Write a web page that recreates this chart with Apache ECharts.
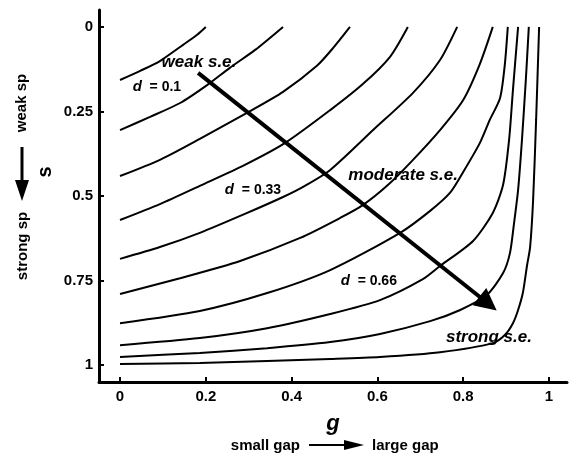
<!DOCTYPE html>
<html>
<head>
<meta charset="utf-8">
<script src="https://cdn.jsdelivr.net/npm/echarts@6/dist/echarts.min.js"></script>
<style>
  html, body { margin: 0; padding: 0; background: #fff; }
  #chart { width: 569px; height: 453px; }
</style>
</head>
<body>
<div id="chart"></div>
<script>
// Contours of constant d in the (g, s) plane; each curve is a list of [g, s] pairs.
const curve1 = [[0, 0.157], [0.047, 0.130], [0.093, 0.101], [0.147, 0.053], [0.179, 0.024], [0.200, 0]];
const curve2 = [[0, 0.305], [0.070, 0.266], [0.140, 0.225], [0.203, 0.172], [0.256, 0.121], [0.315, 0.068], [0.380, 0]];
const curve3 = [[0, 0.441], [0.093, 0.393], [0.186, 0.331], [0.296, 0.254], [0.380, 0.192], [0.459, 0.115], [0.497, 0.062], [0.536, 0]];
const curve4 = [[0, 0.571], [0.093, 0.524], [0.186, 0.470], [0.291, 0.408], [0.385, 0.343], [0.490, 0.246], [0.566, 0.169], [0.629, 0.089], [0.671, 0]];
const curve5 = [[0, 0.686], [0.093, 0.651], [0.186, 0.609], [0.291, 0.553], [0.380, 0.503], [0.431, 0.470], [0.490, 0.423], [0.590, 0.305], [0.683, 0.195], [0.746, 0.098], [0.786, 0]];
const curve6 = [[0, 0.790], [0.140, 0.743], [0.280, 0.692], [0.420, 0.624], [0.513, 0.565], [0.566, 0.527], [0.625, 0.467], [0.683, 0.393], [0.746, 0.305], [0.800, 0.216], [0.839, 0.109], [0.869, 0]];
const curve7 = [[0, 0.876], [0.186, 0.840], [0.343, 0.787], [0.490, 0.719], [0.653, 0.609], [0.723, 0.544], [0.769, 0.491], [0.800, 0.429], [0.839, 0.343], [0.862, 0.275], [0.886, 0.210], [0.897, 0.112], [0.904, 0]];
const curve8 = [[0, 0.941], [0.186, 0.920], [0.343, 0.891], [0.490, 0.849], [0.606, 0.808], [0.706, 0.746], [0.746, 0.707], [0.823, 0.633], [0.869, 0.550], [0.893, 0.467], [0.907, 0.334], [0.916, 0.186], [0.928, 0]];
const curve9 = [[0, 0.976], [0.186, 0.964], [0.343, 0.950], [0.490, 0.932], [0.606, 0.908], [0.723, 0.870], [0.793, 0.837], [0.855, 0.793], [0.893, 0.728], [0.909, 0.669], [0.918, 0.586], [0.928, 0.482], [0.937, 0.334], [0.946, 0.157], [0.953, 0]];
const curve10 = [[0, 0.997], [0.186, 0.994], [0.343, 0.988], [0.490, 0.982], [0.606, 0.976], [0.746, 0.962], [0.869, 0.935], [0.897, 0.911], [0.916, 0.876], [0.928, 0.837], [0.939, 0.787], [0.949, 0.704], [0.956, 0.651], [0.963, 0.512], [0.970, 0.275], [0.977, 0]];
const curves = [curve1, curve2, curve3, curve4, curve5, curve6, curve7, curve8, curve9, curve10];

// Direction of increasing selection effect: tail and head in (g, s).
const seArrow = [[0.182, 0.136], [0.858, 0.818]];

// Axis ticks.
const gTicks = [0, 0.2, 0.4, 0.6, 0.8, 1];
const sTicks = [0, 0.25, 0.5, 0.75, 1];

// In-plot annotations: [g, s, text].
const notes = [
  [0.184, 0.104, '{b|weak s.e.}'],
  [0.086, 0.178, '{i|d}{n|  = 0.1}'],
  [0.310, 0.482, '{i|d}{n|  = 0.33}'],
  [0.660, 0.438, '{b|moderate s.e.}'],
  [0.580, 0.751, '{i|d}{n|  = 0.66}'],
  [0.860, 0.917, '{b|strong s.e.}']
];

const FONT = '"Liberation Sans", Arial, Helvetica, sans-serif';
const chart = echarts.init(document.getElementById('chart'), null, { renderer: 'canvas' });

const series = curves.map(function (c, k) {
  return {
    name: 'd' + (k + 1),
    type: 'line',
    data: c,
    showSymbol: false,
    smooth: 0.25,
    lineStyle: { color: '#000', width: 2 },
    silent: true,
    z: 3
  };
});

series.push({
  type: 'lines',
  coordinateSystem: 'cartesian2d',
  data: [{ coords: seArrow }],
  symbol: ['none', 'triangle'],
  symbolSize: [13, 22],
  lineStyle: { color: '#000', width: 4, opacity: 1 },
  silent: true,
  z: 4
});

const staticGraphics = [
  // vertical axis title and its direction hints
  { type: 'text', x: 45, y: 172, rotation: Math.PI / 2,
    style: { text: 's', fontFamily: FONT, fontWeight: 'bold', fontSize: 20, fill: '#000', textAlign: 'center', textVerticalAlign: 'middle' } },
  { type: 'text', x: 22, y: 103, rotation: Math.PI / 2,
    style: { text: 'weak sp', fontFamily: FONT, fontWeight: 'bold', fontSize: 15, fill: '#000', textAlign: 'center', textVerticalAlign: 'middle' } },
  { type: 'text', x: 23, y: 246, rotation: Math.PI / 2,
    style: { text: 'strong sp', fontFamily: FONT, fontWeight: 'bold', fontSize: 15, fill: '#000', textAlign: 'center', textVerticalAlign: 'middle' } },
  { type: 'line', shape: { x1: 22, y1: 147, x2: 22, y2: 184 }, style: { stroke: '#000', lineWidth: 3 } },
  { type: 'polygon', shape: { points: [[15, 180], [29, 180], [22, 201]] }, style: { fill: '#000' } },
  // horizontal direction hint
  { type: 'text', x: 300, y: 446,
    style: { text: 'small gap', fontFamily: FONT, fontWeight: 'bold', fontSize: 15, fill: '#000', textAlign: 'right', textVerticalAlign: 'middle' } },
  { type: 'line', shape: { x1: 309, y1: 445, x2: 348, y2: 445 }, style: { stroke: '#000', lineWidth: 2 } },
  { type: 'polygon', shape: { points: [[344, 440], [344, 450], [364, 445]] }, style: { fill: '#000' } },
  { type: 'text', x: 372, y: 446,
    style: { text: 'large gap', fontFamily: FONT, fontWeight: 'bold', fontSize: 15, fill: '#000', textAlign: 'left', textVerticalAlign: 'middle' } }
];

chart.setOption({
  animation: false,
  backgroundColor: '#fff',
  grid: { left: 99, right: 2, top: 10, bottom: 71, containLabel: false },
  xAxis: {
    type: 'value',
    min: -0.049,
    max: 1.042,
    name: 'g',
    nameLocation: 'middle',
    nameGap: 31,
    nameTextStyle: { fontFamily: FONT, fontWeight: 'bold', fontStyle: 'italic', fontSize: 22, color: '#000' },
    axisLine: { show: true, onZero: false, lineStyle: { color: '#000', width: 3 } },
    axisTick: { show: true, inside: true, length: 5, customValues: gTicks, lineStyle: { color: '#000', width: 2 } },
    axisLabel: {
      customValues: gTicks, margin: 7,
      fontFamily: FONT, fontWeight: 'bold', fontSize: 15, color: '#000',
      formatter: function (v) { return String(v); }
    },
    splitLine: { show: false }
  },
  yAxis: {
    type: 'value',
    inverse: true,
    min: -0.05,
    max: 1.05,
    axisLine: { show: true, onZero: false, lineStyle: { color: '#000', width: 3 } },
    axisTick: { show: true, inside: true, length: 5, customValues: sTicks, lineStyle: { color: '#000', width: 2 } },
    axisLabel: {
      customValues: sTicks, margin: 6,
      fontFamily: FONT, fontWeight: 'bold', fontSize: 15, color: '#000',
      formatter: function (v) { return String(v); }
    },
    splitLine: { show: false }
  },
  graphic: staticGraphics,
  series: series
});

// Place the in-plot annotations at their (g, s) positions through the axes.
const rich = {
  b: { fontFamily: FONT, fontWeight: 'bold', fontStyle: 'italic', fontSize: 17, fill: '#000' },
  i: { fontFamily: FONT, fontWeight: 'bold', fontStyle: 'italic', fontSize: 15, fill: '#000' },
  n: { fontFamily: FONT, fontWeight: 'bold', fontSize: 14, fill: '#000' }
};
const noteGraphics = notes.map(function (n) {
  const p = chart.convertToPixel({ gridIndex: 0 }, [n[0], n[1]]);
  return {
    type: 'text', x: p[0], y: p[1], z: 10,
    style: { text: n[2], rich: rich, fill: '#000', align: 'center', verticalAlign: 'middle' }
  };
});
chart.setOption({ graphic: staticGraphics.concat(noteGraphics) });
</script>
</body>
</html>
